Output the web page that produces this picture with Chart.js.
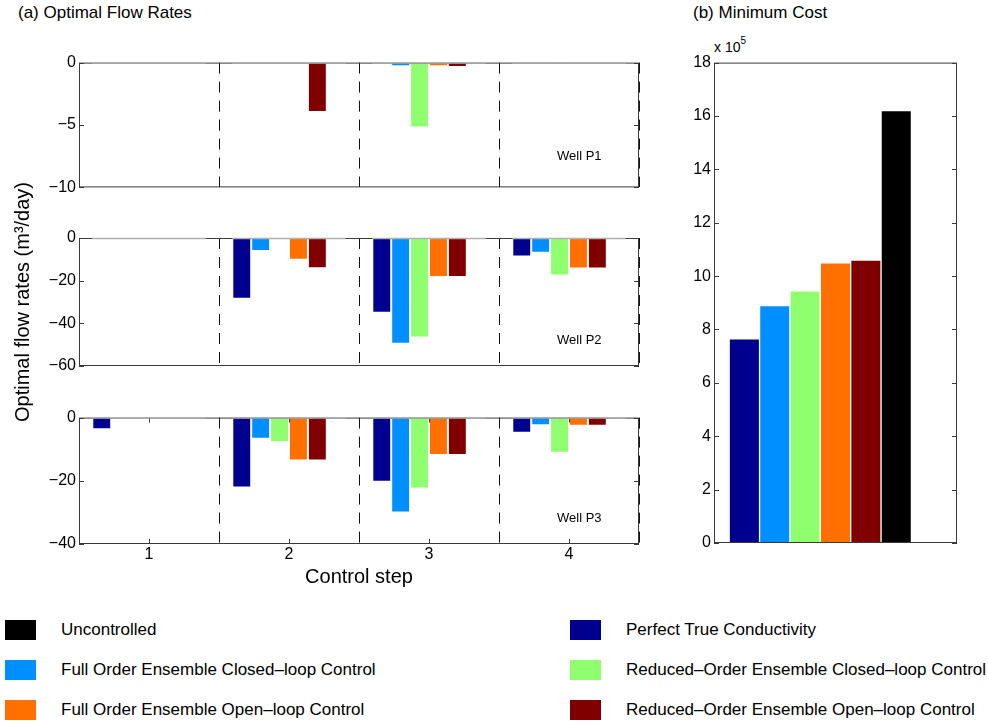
<!DOCTYPE html>
<html>
<head>
<meta charset="utf-8">
<script src="https://cdn.jsdelivr.net/npm/chart.js@4.4.1/dist/chart.umd.min.js"></script>
<style>
body { margin: 0; background: #fff; font-family: "Liberation Sans", Arial, sans-serif; }
#page { position: relative; width: 988px; height: 725px; overflow: hidden; }
canvas { position: absolute; }
.lbl { position: absolute; white-space: nowrap; color: #000; line-height: 1; }
.lbl sup { font-size: 10px; position: relative; top: -2px; }
.leg { position: absolute; height: 20px; display: flex; align-items: center; font-size: 17px; white-space: nowrap; }
.leg span.sw { display: inline-block; width: 31px; height: 20px; margin-right: 25px; }
</style>
</head>
<body>
<div id="page">
  <div class="lbl" style="left:18px;top:4px;font-size:17px">(a) Optimal Flow Rates</div>
  <div class="lbl" style="left:693px;top:4px;font-size:17px">(b) Minimum Cost</div>
  <div class="lbl" style="left:714px;top:38px;font-size:14px">x 10<sup>5</sup></div>
  <canvas id="wellP1" width="660" height="150" style="left:0;top:50px"></canvas>
  <canvas id="wellP2" width="660" height="360" style="left:0;top:128px"></canvas>
  <canvas id="wellP3" width="660" height="200" style="left:0;top:405px"></canvas>
  <canvas id="cost" width="328" height="510" style="left:660px;top:50px"></canvas>
  <div id="legend"></div>
</div>
<script>
// control steps on the x axis of panel (a)
var steps = ['1', '2', '3', '4'];

// series, same order in every panel
var seriesNames = [
    'Perfect True Conductivity',
    'Full Order Ensemble Closed\u2013loop Control',
    'Reduced\u2013Order Ensemble Closed\u2013loop Control',
    'Full Order Ensemble Open\u2013loop Control',
    'Reduced\u2013Order Ensemble Open\u2013loop Control',
    'Uncontrolled'
];
var seriesColors = ['#00008f', '#008fff', '#8fff70', '#ff7000', '#800000', '#000000'];

// optimal flow rates (m3/day), one row per series, columns = control step 1..4
var wellP1 = [
    [0, 0, 0, 0],
    [0, 0, -0.3, 0],
    [0, 0, -5.2, -0.15],
    [0, 0, -0.3, 0],
    [0, -3.95, -0.35, 0],
    [0, 0, 0, 0]
];
var wellP2 = [
    [0, -28.5, -35.0, -8.7],
    [0, -6.1, -49.6, -6.9],
    [0, 0, -46.6, -17.6],
    [0, -10.2, -18.3, -14.3],
    [0, -14.2, -18.3, -14.3],
    [0, 0, 0, 0]
];
var wellP3 = [
    [-3.7, -22.1, -20.3, -4.8],
    [0, -6.7, -30.0, -2.4],
    [0, -7.7, -22.4, -11.1],
    [0, -13.6, -11.8, -2.6],
    [0, -13.6, -11.8, -2.6],
    [0, 0, 0, 0]
];

// (b) minimum cost, same series order
var minCost = [7.65e5, 8.9e5, 9.45e5, 10.5e5, 10.6e5, 16.2e5];
var costSlots = ['0', '1', '2', '3', '4', '5', '6', '7', '8'];

// legend columns (indices into seriesNames)
var legendLeft = [5, 1, 3];
var legendRight = [0, 2, 4];

var axisColor = '#3a3a3a';
var tickFont = { family: '"Liberation Sans", Arial, sans-serif', size: 16 };

function minusLabel(v) {
    return v < 0 ? '\u2212' + Math.abs(v) : '' + v;
}

// box, inward ticks, zero baseline and well label, the matlab look
var panelDeco = {
    id: 'panelDeco',
    afterDraw: function (chart, args, opts) {
        var ctx = chart.ctx, a = chart.chartArea;
        var ys = chart.scales.y, xs = chart.scales.x;
        ctx.save();
        ctx.strokeStyle = axisColor;
        ctx.lineWidth = 1;
        ctx.strokeRect(a.left + 0.5, a.top + 0.5, a.right - a.left - 1, a.bottom - a.top - 1);
        ys.ticks.forEach(function (t) {
            var y = Math.round(ys.getPixelForValue(t.value)) + 0.5;
            ctx.beginPath();
            ctx.moveTo(a.left, y); ctx.lineTo(a.left + 5, y);
            ctx.moveTo(a.right - 5, y); ctx.lineTo(a.right, y);
            ctx.stroke();
        });
        if (opts.xTicks) {
            for (var i = 0; i < chart.data.labels.length; i++) {
                var x = Math.round(xs.getPixelForValue(i)) + 0.5;
                ctx.beginPath();
                ctx.moveTo(x, a.bottom); ctx.lineTo(x, a.bottom - 5);
                ctx.moveTo(x, a.top); ctx.lineTo(x, a.top + 5);
                ctx.stroke();
            }
        }
        if (opts.baseline) {
            var y0 = ys.getPixelForValue(0) + 0.5;
            var first = chart.getDatasetMeta(0).data;
            var last = chart.getDatasetMeta(chart.data.datasets.length - 1).data;
            ctx.strokeStyle = '#b0b0b0';
            ctx.lineWidth = 1.5;
            for (var j = 0; j < first.length; j++) {
                ctx.beginPath();
                ctx.moveTo(first[j].x - first[j].width / 2, y0);
                ctx.lineTo(last[j].x + last[j].width / 2, y0);
                ctx.stroke();
            }
        }
        if (opts.label) {
            ctx.fillStyle = '#000';
            ctx.font = '13px "Liberation Sans", Arial, sans-serif';
            ctx.textBaseline = 'middle';
            ctx.fillText(opts.label, a.right - 82, a.bottom - opts.labelDy);
        }
        ctx.restore();
    }
};

function flowPanel(id, rows, ymin, ystep, pad, opts) {
    var datasets = rows.map(function (r, k) {
        return {
            label: seriesNames[k],
            data: r,
            backgroundColor: seriesColors[k],
            borderColor: 'rgba(255,255,255,0.75)',
            borderWidth: 1,
            barPercentage: 1,
            categoryPercentage: 0.81
        };
    });
    return new Chart(document.getElementById(id), {
        type: 'bar',
        data: { labels: steps, datasets: datasets },
        options: {
            responsive: false,
            animation: false,
            layout: { padding: pad },
            plugins: {
                legend: { display: false },
                tooltip: { enabled: false },
                panelDeco: { label: opts.label, labelDy: opts.labelDy, baseline: true, xTicks: opts.showX }
            },
            scales: {
                x: {
                    grid: {
                        offset: true,
                        lineWidth: 1,
                        drawTicks: false,
                        // dashed separators between steps only, the box covers the edges
                        color: function (c) {
                            return (c.index === 0 || c.index >= steps.length) ? 'rgba(0,0,0,0)' : '#111';
                        }
                    },
                    border: { display: false, dash: [11, 8] },
                    ticks: { display: opts.showX, color: '#000', font: { size: 16 }, padding: 1 },
                    title: {
                        display: opts.showX,
                        text: 'Control step',
                        color: '#000',
                        font: { size: 20 },
                        padding: { top: 0, bottom: 16 }
                    },
                    afterFit: function (s) { s.height = opts.xHeight; }
                },
                y: {
                    min: ymin,
                    max: 0,
                    grid: { display: false, drawTicks: false },
                    border: { display: false },
                    ticks: { stepSize: ystep, color: '#000', font: tickFont, padding: 3, callback: minusLabel },
                    title: {
                        display: !!opts.yTitle,
                        text: opts.yTitle,
                        color: '#000',
                        font: { size: 20 },
                        padding: { top: 11, bottom: 0 }
                    },
                    afterFit: function (s) { s.width = 79; }
                }
            }
        },
        plugins: [panelDeco]
    });
}

flowPanel('wellP1', wellP1, -10, 5, { top: 11, right: 21, bottom: 12, left: 0 },
    { label: 'Well P1', labelDy: 31, showX: false, xHeight: 0 });
flowPanel('wellP2', wellP2, -60, 20, { top: 110, right: 21, bottom: 122, left: 0 },
    { label: 'Well P2', labelDy: 26, showX: false, xHeight: 0, yTitle: 'Optimal flow rates (m\u00b3/day)' });
flowPanel('wellP3', wellP3, -40, 20, { top: 11, right: 21, bottom: 0, left: 0 },
    { label: 'Well P3', labelDy: 26, showX: true, xHeight: 61 });

new Chart(document.getElementById('cost'), {
    type: 'bar',
    data: {
        labels: costSlots,
        datasets: [{
            label: 'Minimum cost',
            data: [null].concat(minCost),
            backgroundColor: [null].concat(seriesColors),
            borderColor: 'rgba(255,255,255,0.75)',
            borderWidth: 1,
            barPercentage: 1,
            categoryPercentage: 1
        }]
    },
    options: {
        responsive: false,
        animation: false,
        layout: { padding: { top: 11, right: 31, bottom: 17, left: 0 } },
        plugins: {
            legend: { display: false },
            tooltip: { enabled: false },
            panelDeco: { baseline: false, xTicks: false }
        },
        scales: {
            x: {
                offset: false,
                grid: { display: false, drawTicks: false },
                border: { display: false },
                ticks: { display: false },
                afterFit: function (s) { s.height = 0; }
            },
            y: {
                min: 0,
                max: 18e5,
                grid: { display: false, drawTicks: false },
                border: { display: false },
                ticks: {
                    stepSize: 2e5, color: '#000', font: tickFont, padding: 3,
                    callback: function (v) { return '' + Math.round(v / 1e5); }
                },
                afterFit: function (s) { s.width = 54; }
            }
        }
    },
    plugins: [panelDeco]
});

// legend, two columns under both panels
var legend = document.getElementById('legend');
function legendItem(k, left, top) {
    var d = document.createElement('div');
    d.className = 'leg';
    d.style.left = left + 'px';
    d.style.top = top + 'px';
    d.innerHTML = '<span class="sw" style="background:' + seriesColors[k] + '"></span>' + seriesNames[k];
    legend.appendChild(d);
}
legendLeft.forEach(function (k, r) { legendItem(k, 5, 620 + r * 40); });
legendRight.forEach(function (k, r) { legendItem(k, 570, 620 + r * 40); });
</script>
</body>
</html>
